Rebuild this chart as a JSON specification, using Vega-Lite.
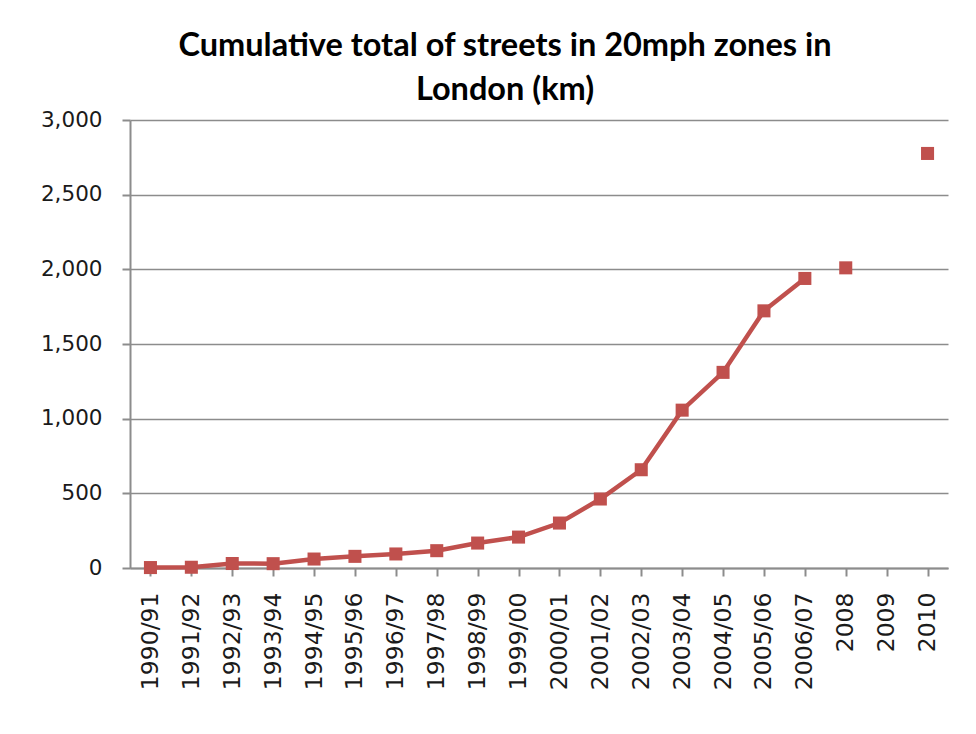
{
  "$schema": "https://vega.github.io/schema/vega-lite/v6.json",
  "autosize": {"type": "none"},
  "padding": {"left": 130, "top": 120, "right": 28, "bottom": 166},
  "width": 818,
  "height": 448,
  "background": "white",
  "title": {
    "text": ["Cumulative total of streets in 20mph zones in", "London (km)"],
    "font": "Lato",
    "fontWeight": "bold",
    "fontSize": 32.5,
    "lineHeight": 44,
    "color": "#000000",
    "anchor": "middle",
    "frame": "group",
    "dx": -34,
    "offset": 3
  },
  "config": {
    "view": {"stroke": null},
    "axis": {
      "labelFont": "DejaVu Sans",
      "labelColor": "#1a1a1a",
      "domainColor": "#8c8c8c",
      "domainWidth": 2,
      "tickColor": "#8c8c8c",
      "tickWidth": 2,
      "gridColor": "#8c8c8c",
      "gridWidth": 1.5,
      "title": null
    }
  },
  "data": {
    "values": [
      {"period": "1990/91", "km": 3, "type": "financial year"},
      {"period": "1991/92", "km": 5, "type": "financial year"},
      {"period": "1992/93", "km": 30, "type": "financial year"},
      {"period": "1993/94", "km": 29, "type": "financial year"},
      {"period": "1994/95", "km": 60, "type": "financial year"},
      {"period": "1995/96", "km": 78, "type": "financial year"},
      {"period": "1996/97", "km": 94, "type": "financial year"},
      {"period": "1997/98", "km": 116, "type": "financial year"},
      {"period": "1998/99", "km": 167, "type": "financial year"},
      {"period": "1999/00", "km": 207, "type": "financial year"},
      {"period": "2000/01", "km": 301, "type": "financial year"},
      {"period": "2001/02", "km": 462, "type": "financial year"},
      {"period": "2002/03", "km": 658, "type": "financial year"},
      {"period": "2003/04", "km": 1057, "type": "financial year"},
      {"period": "2004/05", "km": 1310, "type": "financial year"},
      {"period": "2005/06", "km": 1722, "type": "financial year"},
      {"period": "2006/07", "km": 1939, "type": "financial year"},
      {"period": "2008", "km": 2010, "type": "calendar year"},
      {"period": "2009", "km": null, "type": "calendar year"},
      {"period": "2010", "km": 2776, "type": "calendar year"}
    ]
  },
  "encoding": {
    "x": {
      "field": "period",
      "type": "ordinal",
      "sort": null,
      "scale": {
        "domain": ["1990/91", "1991/92", "1992/93", "1993/94", "1994/95", "1995/96", "1996/97", "1997/98", "1998/99", "1999/00", "2000/01", "2001/02", "2002/03", "2003/04", "2004/05", "2005/06", "2006/07", "2008", "2009", "2010"],
        "paddingInner": 0,
        "paddingOuter": 0
      },
      "axis": {
        "labelAngle": -90,
        "labelFontSize": 23.5,
        "labelPadding": 16,
        "tickSize": 8,
        "bandPosition": 0,
        "grid": false
      }
    },
    "y": {
      "field": "km",
      "type": "quantitative",
      "scale": {"domain": [0, 3000], "nice": false},
      "axis": {
        "values": [0, 500, 1000, 1500, 2000, 2500, 3000],
        "format": ",.0f",
        "labelFontSize": 21.5,
        "labelPadding": 20,
        "tickSize": 8,
        "grid": true
      }
    }
  },
  "layer": [
    {
      "transform": [{"filter": "datum.type == 'financial year'"}],
      "mark": {"type": "line", "color": "#C0504D", "strokeWidth": 4.5}
    },
    {
      "mark": {"type": "point", "shape": "square", "filled": true, "size": 170, "color": "#C0504D", "opacity": 1}
    }
  ]
}
